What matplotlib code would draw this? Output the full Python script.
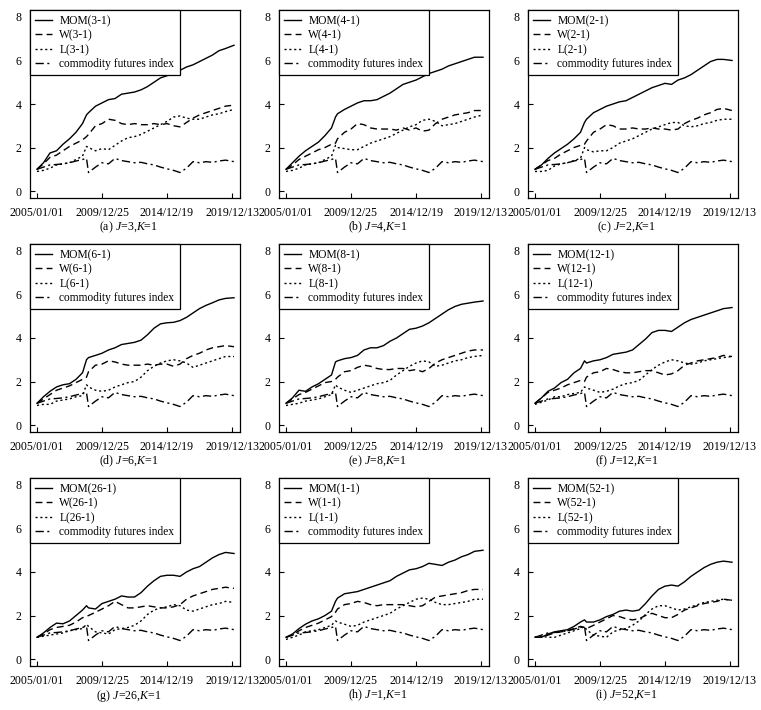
import matplotlib
matplotlib.use("Agg")
import matplotlib.pyplot as plt

plt.rcParams['font.family'] = ['Liberation Serif', 'DejaVu Serif']
plt.rcParams['mathtext.fontset'] = 'custom'
plt.rcParams['mathtext.rm'] = 'Liberation Serif'
plt.rcParams['mathtext.it'] = 'Liberation Serif:italic'

# week index since 2005/01/01 (weekly data)
weeks = [0, 26, 52, 78, 104, 130, 156, 182, 198, 206, 234, 260, 286, 312, 338, 364,
         390, 416, 442, 468, 494, 520, 546, 572, 598, 624, 650, 676, 702, 728, 754, 788]
tick_weeks = [0, 260, 520, 780]
tick_labels = ['2005/01/01', '2009/12/25', '2014/12/19', '2019/12/13']

# commodity futures index (same in every panel)
index = [1.0, 1.1, 1.2, 1.22, 1.25, 1.3, 1.38, 1.45, 1.5, 0.85, 1.1, 1.3, 1.25, 1.5, 1.4, 1.35,
         1.3, 1.32, 1.25, 1.2, 1.1, 1.02, 0.95, 0.85, 1.05, 1.35, 1.3, 1.35, 1.32, 1.38, 1.42, 1.35]

mom_3 = [1.0, 1.3, 1.75, 1.85, 2.15, 2.4, 2.7, 3.1, 3.5, 3.6, 3.9, 4.05, 4.2, 4.25, 4.45, 4.5,
         4.55, 4.65, 4.8, 5.0, 5.2, 5.3, 5.4, 5.55, 5.7, 5.8, 5.95, 6.1, 6.25, 6.45, 6.55, 6.7]
w_3 = [1.0, 1.25, 1.55, 1.65, 1.85, 2.05, 2.2, 2.35, 2.5, 2.6, 3.0, 3.1, 3.3, 3.25, 3.1, 3.05,
       3.1, 3.05, 3.05, 3.1, 3.05, 3.1, 3.0, 2.95, 3.15, 3.35, 3.5, 3.6, 3.7, 3.8, 3.9, 3.95]
l_3 = [0.9, 0.95, 1.05, 1.2, 1.25, 1.3, 1.45, 1.6, 2.05, 2.0, 1.85, 1.95, 1.9, 2.1, 2.3, 2.45,
       2.5, 2.6, 2.75, 2.9, 3.05, 3.2, 3.4, 3.45, 3.35, 3.3, 3.3, 3.4, 3.5, 3.55, 3.65, 3.75]

mom_4 = [1.0, 1.3, 1.6, 1.85, 2.05, 2.25, 2.55, 2.9, 3.4, 3.55, 3.75, 3.9, 4.05, 4.15, 4.15, 4.2,
         4.35, 4.5, 4.7, 4.9, 5.0, 5.1, 5.25, 5.4, 5.5, 5.6, 5.75, 5.85, 5.95, 6.05, 6.15, 6.15]
w_4 = [1.0, 1.2, 1.45, 1.6, 1.75, 1.9, 2.0, 2.15, 2.2, 2.4, 2.7, 2.85, 3.1, 3.05, 2.9, 2.85,
       2.85, 2.85, 2.8, 2.9, 2.8, 2.9, 2.75, 2.8, 3.1, 3.3, 3.4, 3.5, 3.55, 3.6, 3.7, 3.7]
l_4 = [0.9, 0.95, 1.05, 1.2, 1.25, 1.3, 1.45, 1.6, 2.1, 2.0, 1.95, 1.9, 1.9, 2.05, 2.2, 2.3,
       2.4, 2.5, 2.65, 2.8, 2.95, 3.05, 3.25, 3.3, 3.2, 3.0, 3.05, 3.1, 3.2, 3.3, 3.4, 3.5]

mom_2 = [1.0, 1.2, 1.5, 1.75, 1.95, 2.15, 2.4, 2.7, 3.15, 3.3, 3.6, 3.75, 3.9, 4.0, 4.1, 4.15,
         4.3, 4.45, 4.6, 4.75, 4.85, 4.95, 4.9, 5.1, 5.2, 5.35, 5.55, 5.75, 5.95, 6.05, 6.05, 6.0]
w_2 = [1.0, 1.2, 1.4, 1.5, 1.7, 1.85, 2.0, 2.1, 2.15, 2.3, 2.7, 2.85, 3.05, 3.0, 2.85, 2.85,
       2.9, 2.85, 2.85, 2.9, 2.85, 2.85, 2.8, 2.85, 3.1, 3.25, 3.35, 3.5, 3.6, 3.75, 3.8, 3.7]
l_2 = [0.9, 0.9, 0.95, 1.15, 1.25, 1.3, 1.4, 1.5, 2.0, 1.9, 1.8, 1.85, 1.85, 2.0, 2.2, 2.3,
       2.4, 2.55, 2.7, 2.85, 2.95, 3.05, 3.15, 3.15, 3.0, 2.95, 3.0, 3.1, 3.15, 3.25, 3.3, 3.3]

mom_6 = [1.0, 1.3, 1.55, 1.75, 1.85, 1.9, 2.1, 2.4, 3.0, 3.1, 3.2, 3.3, 3.45, 3.55, 3.7, 3.75,
         3.8, 3.9, 4.15, 4.45, 4.65, 4.7, 4.72, 4.8, 4.95, 5.15, 5.35, 5.5, 5.62, 5.75, 5.82, 5.85]
w_6 = [1.0, 1.2, 1.4, 1.6, 1.7, 1.8, 1.95, 2.1, 2.2, 2.45, 2.75, 2.8, 2.95, 2.9, 2.8, 2.75,
       2.75, 2.75, 2.8, 2.75, 2.8, 2.8, 2.7, 2.8, 3.05, 3.2, 3.3, 3.45, 3.55, 3.6, 3.65, 3.6]
l_6 = [0.9, 0.95, 0.95, 1.1, 1.15, 1.2, 1.3, 1.35, 1.85, 1.75, 1.6, 1.55, 1.6, 1.75, 1.85, 1.95,
       2.0, 2.2, 2.5, 2.7, 2.85, 2.95, 3.0, 2.95, 2.85, 2.65, 2.75, 2.85, 2.95, 3.05, 3.15, 3.15]

mom_8 = [1.0, 1.25, 1.6, 1.55, 1.75, 1.9, 2.1, 2.3, 2.9, 2.95, 3.05, 3.1, 3.2, 3.45, 3.55, 3.55,
         3.65, 3.85, 4.0, 4.2, 4.4, 4.45, 4.55, 4.7, 4.9, 5.1, 5.3, 5.45, 5.55, 5.6, 5.65, 5.7]
w_8 = [1.0, 1.2, 1.4, 1.5, 1.65, 1.8, 1.95, 2.0, 2.1, 2.2, 2.45, 2.5, 2.65, 2.75, 2.7, 2.6,
       2.55, 2.55, 2.6, 2.6, 2.5, 2.55, 2.45, 2.6, 2.85, 3.0, 3.1, 3.2, 3.3, 3.4, 3.45, 3.45]
l_8 = [0.9, 0.95, 1.0, 1.1, 1.15, 1.2, 1.3, 1.4, 1.85, 1.75, 1.6, 1.5, 1.6, 1.7, 1.8, 1.9,
       1.95, 2.05, 2.3, 2.5, 2.7, 2.85, 2.95, 2.9, 2.7, 2.75, 2.85, 2.95, 3.0, 3.1, 3.15, 3.2]

mom_12 = [1.0, 1.25, 1.55, 1.7, 1.95, 2.1, 2.4, 2.6, 2.95, 2.85, 2.95, 3.0, 3.1, 3.25, 3.3, 3.35,
          3.45, 3.7, 3.95, 4.25, 4.35, 4.35, 4.3, 4.5, 4.7, 4.85, 4.95, 5.05, 5.15, 5.25, 5.35, 5.4]
w_12 = [1.0, 1.25, 1.5, 1.6, 1.7, 1.85, 1.95, 2.05, 2.0, 2.2, 2.4, 2.45, 2.6, 2.55, 2.45, 2.4,
        2.4, 2.45, 2.5, 2.5, 2.4, 2.3, 2.35, 2.5, 2.75, 2.85, 2.95, 3.0, 3.05, 3.1, 3.2, 3.15]
l_12 = [0.95, 1.05, 1.15, 1.3, 1.3, 1.4, 1.45, 1.5, 1.75, 1.7, 1.6, 1.5, 1.55, 1.65, 1.8, 1.9,
        1.95, 2.05, 2.3, 2.55, 2.75, 2.9, 3.0, 2.95, 2.85, 2.8, 2.85, 2.95, 3.0, 3.05, 3.1, 3.15]

mom_26 = [1.0, 1.2, 1.45, 1.65, 1.62, 1.75, 2.0, 2.25, 2.45, 2.35, 2.3, 2.55, 2.65, 2.75, 2.9, 2.85,
          2.85, 3.05, 3.35, 3.6, 3.8, 3.85, 3.85, 3.8, 4.0, 4.15, 4.25, 4.45, 4.65, 4.8, 4.9, 4.85]
w_26 = [1.0, 1.15, 1.35, 1.45, 1.5, 1.55, 1.7, 1.9, 1.95, 2.0, 2.15, 2.3, 2.45, 2.65, 2.5, 2.35,
        2.35, 2.4, 2.45, 2.4, 2.35, 2.35, 2.4, 2.5, 2.75, 2.9, 3.0, 3.1, 3.2, 3.25, 3.3, 3.25]
l_26 = [1.0, 1.05, 1.1, 1.15, 1.2, 1.3, 1.35, 1.4, 1.6, 1.5, 1.25, 1.2, 1.15, 1.35, 1.4, 1.45,
        1.55, 1.75, 2.05, 2.25, 2.35, 2.4, 2.5, 2.45, 2.25, 2.2, 2.3, 2.4, 2.5, 2.55, 2.65, 2.6]

mom_1 = [1.0, 1.15, 1.4, 1.6, 1.75, 1.85, 2.0, 2.2, 2.65, 2.8, 3.0, 3.05, 3.1, 3.2, 3.3, 3.4,
         3.5, 3.6, 3.8, 3.95, 4.1, 4.15, 4.25, 4.4, 4.35, 4.3, 4.45, 4.55, 4.7, 4.8, 4.95, 5.0]
w_1 = [1.0, 1.1, 1.3, 1.45, 1.55, 1.65, 1.8, 1.95, 2.15, 2.3, 2.5, 2.55, 2.65, 2.6, 2.5, 2.45,
       2.5, 2.5, 2.5, 2.5, 2.45, 2.4, 2.45, 2.65, 2.85, 2.9, 2.95, 3.0, 3.05, 3.15, 3.2, 3.2]
l_1 = [0.9, 1.0, 1.1, 1.25, 1.3, 1.35, 1.45, 1.55, 1.75, 1.7, 1.6, 1.5, 1.55, 1.7, 1.8, 1.9,
       2.0, 2.1, 2.3, 2.45, 2.6, 2.75, 2.8, 2.75, 2.6, 2.5, 2.5, 2.55, 2.6, 2.65, 2.75, 2.75]

mom_52 = [1.0, 1.0, 1.15, 1.25, 1.3, 1.35, 1.5, 1.7, 1.8, 1.7, 1.7, 1.8, 1.95, 2.05, 2.2, 2.25,
          2.2, 2.25, 2.55, 2.9, 3.2, 3.35, 3.4, 3.35, 3.55, 3.8, 4.0, 4.2, 4.35, 4.45, 4.5, 4.45]
w_52 = [1.0, 1.0, 1.1, 1.2, 1.25, 1.3, 1.4, 1.5, 1.45, 1.4, 1.55, 1.7, 1.85, 2.0, 1.95, 1.85,
        1.8, 1.85, 2.0, 2.1, 2.0, 1.9, 1.9, 2.05, 2.25, 2.35, 2.45, 2.55, 2.6, 2.65, 2.75, 2.7]
l_52 = [1.0, 1.05, 1.0, 1.0, 1.1, 1.2, 1.3, 1.4, 1.5, 1.35, 1.1, 1.05, 1.0, 1.25, 1.35, 1.4,
        1.55, 1.75, 2.05, 2.3, 2.45, 2.45, 2.35, 2.25, 2.3, 2.4, 2.5, 2.6, 2.65, 2.7, 2.75, 2.7]

# (letter, J, MOM, W, L) in reading order
panels = [('a', 3, mom_3, w_3, l_3), ('b', 4, mom_4, w_4, l_4), ('c', 2, mom_2, w_2, l_2),
          ('d', 6, mom_6, w_6, l_6), ('e', 8, mom_8, w_8, l_8), ('f', 12, mom_12, w_12, l_12),
          ('g', 26, mom_26, w_26, l_26), ('h', 1, mom_1, w_1, l_1), ('i', 52, mom_52, w_52, l_52)]

W_PX, H_PX = 761, 710
fig = plt.figure(figsize=(W_PX / 100, H_PX / 100), dpi=100)

col_left = [30, 279, 528]
row_top = [10, 244, 478]
ax_w, ax_h = 210, 188
fs = 8.6
leg_fs = 8.3

for k, (letter, J, mom, w, l) in enumerate(panels):
    r, c = divmod(k, 3)
    left, top = col_left[c], row_top[r]
    ax = fig.add_axes([left / W_PX, 1 - (top + ax_h) / H_PX, ax_w / W_PX, ax_h / H_PX])

    name = f'{J}-1'
    ax.plot(weeks, mom, color='black', lw=1.0, ls='-', label=f'MOM({name})')
    ax.plot(weeks, w, color='black', lw=1.0, ls=(0, (5, 3)), label=f'W({name})')
    ax.plot(weeks, l, color='black', lw=1.0, ls=(0, (1.5, 2)), label=f'L({name})')
    ax.plot(weeks, index, color='black', lw=1.0, ls=(0, (6, 2.5, 1.5, 2.5)),
            label='commodity futures index')

    ax.set_xlim(-28, 812)
    ax.set_ylim(-0.32, 8.32)
    ax.set_xticks(tick_weeks)
    ax.set_xticklabels(tick_labels)
    ax.set_yticks([0, 2, 4, 6, 8])
    ax.tick_params(direction='in', length=3.5, width=0.8, labelsize=fs)
    ax.tick_params(axis='x', pad=6.8)
    ax.tick_params(axis='y', pad=6)
    for sp in ax.spines.values():
        sp.set_linewidth(0.9)

    leg = ax.legend(loc='upper left', borderaxespad=0, fontsize=leg_fs, fancybox=False,
                    framealpha=1, edgecolor='black', handlelength=1.5, handletextpad=0.6,
                    labelspacing=0.2, borderpad=0.45)
    leg.get_frame().set_linewidth(0.9)

    fig.text((left + 0.47 * ax_w) / W_PX, 1 - (top + ax_h + 29.5) / H_PX,
             f'({letter}) $J$=' + str(J) + ',$K$=1', ha='center', va='center', fontsize=fs)

fig.savefig('out.png', dpi=100)
